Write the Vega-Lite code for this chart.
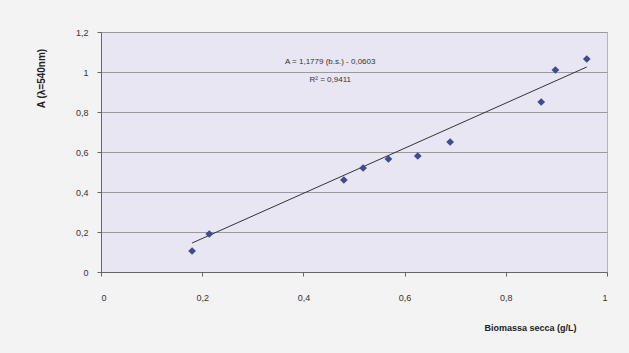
{
  "$schema": "https://vega.github.io/schema/vega-lite/v6.json",
  "autosize": {"type": "none"},
  "width": 506,
  "height": 240,
  "padding": {"left": 101, "top": 32, "right": 22, "bottom": 81},
  "background": "#f3f3f3",
  "config": {
    "font": "Liberation Sans",
    "view": {"fill": "#e8e6f2", "stroke": "#b4b4c0", "strokeWidth": 1},
    "axis": {
      "labelFont": "Liberation Sans",
      "titleFont": "Liberation Sans",
      "labelFontSize": 9,
      "labelColor": "#333",
      "titleColor": "#222",
      "domainColor": "#666",
      "tickColor": "#666",
      "tickSize": 4,
      "labelOverlap": false
    }
  },
  "datasets": {
    "pts": [
      {"bs": 0.18, "A": 0.105},
      {"bs": 0.214, "A": 0.19},
      {"bs": 0.48, "A": 0.46},
      {"bs": 0.518, "A": 0.52},
      {"bs": 0.568, "A": 0.565},
      {"bs": 0.626, "A": 0.58},
      {"bs": 0.69, "A": 0.65},
      {"bs": 0.87, "A": 0.85},
      {"bs": 0.898, "A": 1.01},
      {"bs": 0.96, "A": 1.065}
    ],
    "fit": [
      {"bs": 0.18, "A": 0.145},
      {"bs": 0.96, "A": 1.025}
    ],
    "eq": [
      {"bs": 0.453, "A": 1.05, "t": "A = 1,1779 (b.s.) - 0,0603"},
      {"bs": 0.453, "A": 0.96, "t": "R² = 0,9411"}
    ]
  },
  "encoding": {
    "x": {
      "field": "bs", "type": "quantitative",
      "scale": {"domain": [0, 1], "nice": false},
      "axis": {
        "values": [0, 0.2, 0.4, 0.6, 0.8, 1],
        "grid": false,
        "labelPadding": 17,
        "labelExpr": "replace(format(datum.value, '~g'), '.', ',')",
        "title": "Biomassa secca (g/L)",
        "titleFontSize": 9,
        "titleFontWeight": "bold",
        "titleX": 429,
        "titleY": 55,
        "titleAlign": "center",
        "titleBaseline": "middle"
      }
    },
    "y": {
      "field": "A", "type": "quantitative",
      "scale": {"domain": [0, 1.2], "nice": false},
      "axis": {
        "values": [0, 0.2, 0.4, 0.6, 0.8, 1, 1.2],
        "tickCount": 7,
        "grid": true,
        "gridColor": "#9a9a9a",
        "gridWidth": 1,
        "labelPadding": 9,
        "labelExpr": "replace(format(datum.value, '~g'), '.', ',')",
        "title": "A (λ=540nm)",
        "titleFontSize": 10,
        "titleFontWeight": "bold",
        "titleAngle": 270,
        "titleX": -60,
        "titleY": 46,
        "titleAlign": "center",
        "titleBaseline": "middle"
      }
    }
  },
  "layer": [
    {
      "data": {"name": "fit"},
      "mark": {"type": "line", "color": "#333333", "strokeWidth": 1}
    },
    {
      "data": {"name": "pts"},
      "mark": {"type": "point", "shape": "diamond", "filled": true, "color": "#3d4b8f", "size": 60, "opacity": 1}
    },
    {
      "data": {"name": "eq"},
      "mark": {"type": "text", "fontSize": 8, "color": "#333", "align": "center", "baseline": "middle", "font": "Liberation Sans"},
      "encoding": {
        "text": {"field": "t"}
      }
    }
  ]
}
